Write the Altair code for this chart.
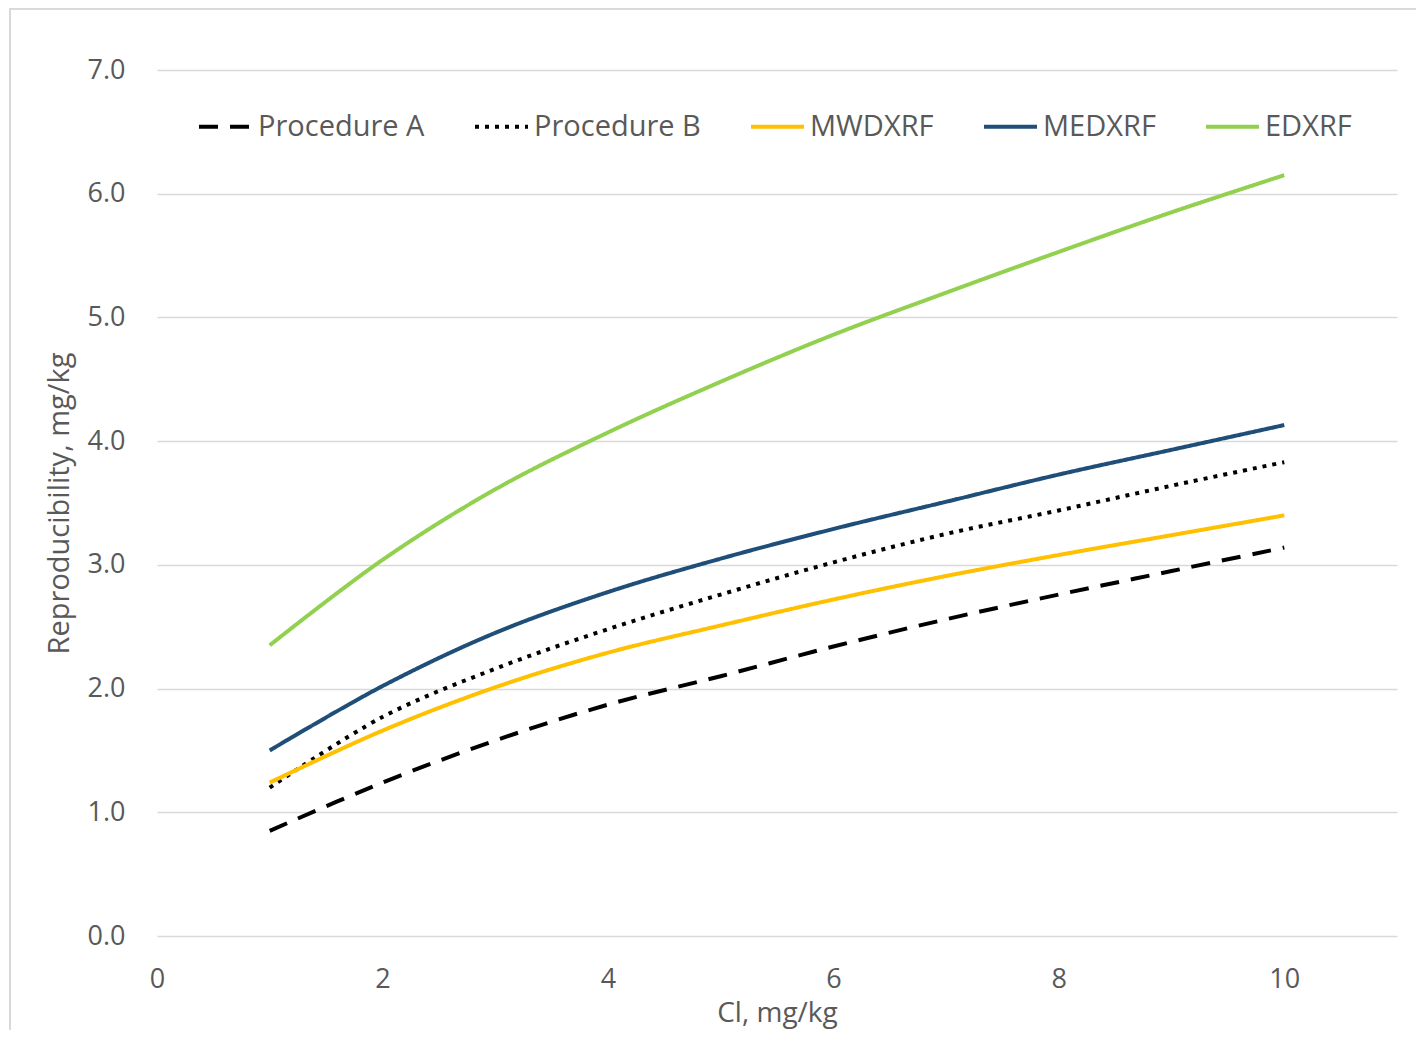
import altair as alt
import pandas as pd

# ---- data ----
x_vals = [1, 2, 3, 4, 5, 6, 7, 8, 9, 10]
series_names = ["Procedure A", "Procedure B", "MWDXRF", "MEDXRF", "EDXRF"]
proc_a = [0.85, 1.24, 1.58, 1.87, 2.10, 2.34, 2.56, 2.76, 2.95, 3.14]
proc_b = [1.20, 1.77, 2.16, 2.48, 2.76, 3.02, 3.25, 3.44, 3.64, 3.83]
mwdxrf = [1.24, 1.66, 2.01, 2.29, 2.51, 2.72, 2.91, 3.08, 3.24, 3.40]
medxrf = [1.50, 2.02, 2.45, 2.78, 3.05, 3.29, 3.51, 3.73, 3.93, 4.13]
edxrf = [2.35, 3.04, 3.61, 4.07, 4.48, 4.86, 5.20, 5.53, 5.85, 6.15]
x_ticks = [0, 2, 4, 6, 8, 10]
y_ticks = [0, 1, 2, 3, 4, 5, 6, 7]

series_values = [proc_a, proc_b, mwdxrf, medxrf, edxrf]
rows = []
for name, vals in zip(series_names, series_values):
    for xv, yv in zip(x_vals, vals):
        rows.append({"series": name, "x": xv, "y": yv})
df = pd.DataFrame(rows)

# ---- styles ----
colors = ["#000000", "#000000", "#FFC000", "#1F4E79", "#92D050"]
dashes = [[19, 12], [4, 6], [1, 0], [1, 0], [1, 0]]
FONT = "Open Sans"
TXT = "#595959"
GRID = "#d9d9d9"

W, H = 1240, 866

legend_cfg = alt.Legend(title=None)

lines = alt.Chart(df).mark_line(strokeWidth=4, interpolate="catmull-rom").encode(
    x=alt.X(
        "x:Q",
        scale=alt.Scale(domain=[0, 11], nice=False),
        axis=alt.Axis(
            values=x_ticks, grid=False, domain=False, ticks=False, labelFlush=False,
            labelPadding=30, labelFontSize=27, labelFont=FONT, labelColor=TXT,
            title="Cl, mg/kg", titleFont=FONT, titleFontSize=28, titleColor=TXT,
            titleFontWeight="normal", titleX=W / 2, titleY=77,
            titleBaseline="middle", titleAlign="center",
        ),
    ),
    y=alt.Y(
        "y:Q",
        scale=alt.Scale(domain=[0, 7], nice=False),
        axis=alt.Axis(
            values=y_ticks, format=".1f", domain=False, ticks=False,
            labelPadding=32, labelFontSize=27, labelFont=FONT, labelColor=TXT,
            gridColor=GRID, gridWidth=1.5,
            title="Reproducibility, mg/kg", titleFont=FONT, titleFontSize=29,
            titleColor=TXT, titleFontWeight="normal",
            titleX=-98, titleY=H / 2, titleBaseline="middle", titleAlign="center",
        ),
    ),
    color=alt.Color("series:N", scale=alt.Scale(domain=series_names, range=colors),
                    sort=series_names, legend=legend_cfg),
    strokeDash=alt.StrokeDash("series:N", scale=alt.Scale(domain=series_names, range=dashes),
                              sort=series_names, legend=legend_cfg),
)

border = alt.Chart(pd.DataFrame({"b": [0]})).mark_rect(
    filled=False, stroke=GRID, strokeWidth=2
).encode(
    x=alt.value(-147), x2=alt.value(1400), y=alt.value(-61), y2=alt.value(1000)
)

chart = alt.layer(border, lines).properties(
    width=W, height=H,
    autosize=alt.AutoSizeParams(type="none"),
    padding={"left": 149, "top": 62, "right": 19, "bottom": 94},
).configure_view(strokeWidth=0).configure_legend(
    orient="none", legendX=40, legendY=28, direction="horizontal",
    symbolType="stroke", symbolSize=2809, symbolStrokeWidth=4,
    labelFont=FONT, labelFontSize=29, labelColor=TXT, labelOffset=4,
    columnPadding=42, labelLimit=400,
)

chart.save("out.html", embed_options={"renderer": "svg", "actions": False})
